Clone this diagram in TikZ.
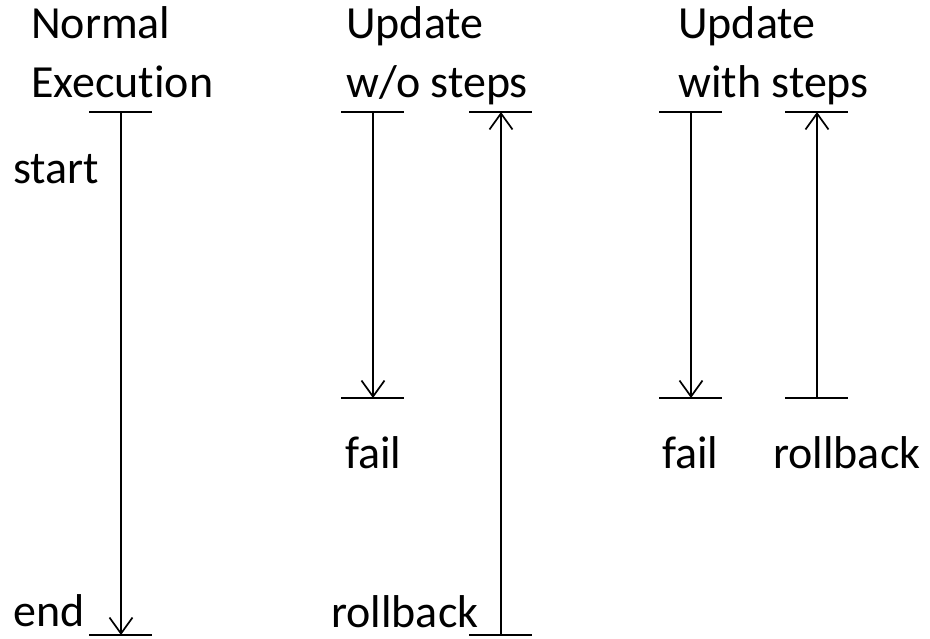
\documentclass[tikz,border=0pt]{standalone}
\usepackage{fontspec}
\setmainfont[Ligatures={NoCommon}]{Carlito}
\usetikzlibrary{arrows.meta}
\begin{document}
\begin{tikzpicture}[x=1pt,y=-1pt,
  lbl/.style={inner sep=0pt,anchor=base west,font=\fontsize{46}{54}\selectfont},
  bar/.style={line width=1.7pt},
  flow/.style={line width=1.7pt,-{Straight Barb[length=16pt,width=23pt,line width=1.7pt]}}]
\useasboundingbox (0,0) rectangle (930,638);
% headings
\node[lbl] (h1a) at (31,38) {Normal};
\node[lbl] (h1b) at (31,97) {Execution};
\node[lbl] (h2a) at (346,38) {Update};
\node[lbl] (h2b) at (346,97) {w/o steps};
\node[lbl] (h3a) at (678,38) {Update};
\node[lbl] (h3b) at (678,97) {with steps};
% labels
\node[lbl] (start) at (13,183) {start};
\node[lbl] (end) at (13,626) {end};
\node[lbl] (fail2) at (345,468) {fail};
\node[lbl] (rb2) at (331,627) {rollback};
\node[lbl] (fail3) at (662,468) {fail};
\node[lbl] (rb3) at (773,468) {rollback};
% coordinates
\coordinate (n1t) at (121,112);
\coordinate (n1b) at (121,635);
\coordinate (u2t) at (373,112);
\coordinate (u2b) at (373,398);
\coordinate (r2t) at (501,112);
\coordinate (r2b) at (501,635);
\coordinate (u3t) at (691,112);
\coordinate (u3b) at (691,398);
\coordinate (r3t) at (817,112);
\coordinate (r3b) at (817,398);
% bars
\foreach \c in {n1t,n1b,u2t,u2b,r2t,r2b,u3t,u3b,r3t,r3b}
  \draw[bar] ([xshift=-32pt]\c) -- ([xshift=31pt]\c);
% lines
\draw[flow] (n1t) -- (n1b);
\draw[flow] (u2t) -- (u2b);
\draw[flow] (r2b) -- (r2t);
\draw[flow] (u3t) -- (u3b);
\draw[flow] (r3b) -- (r3t);
\end{tikzpicture}
\end{document}
